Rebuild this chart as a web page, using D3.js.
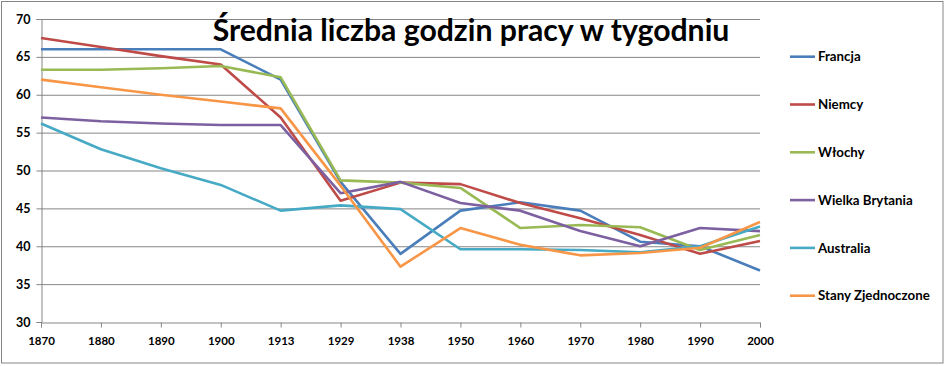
<!DOCTYPE html>
<html><head><meta charset="utf-8">
<script src="https://cdn.jsdelivr.net/npm/d3@7"></script>
<style>body{margin:0;background:#fff}svg{display:block}</style>
</head><body>
<svg id="c" width="945" height="366"></svg>
<script>
const years = ["1870","1880","1890","1900","1913","1929","1938","1950","1960","1970","1980","1990","2000"];
const seriesNames = ["Francja","Niemcy","Włochy","Wielka Brytania","Australia","Stany Zjednoczone"];
const francja = [66,66,66,66,62,48.5,39,44.7,45.8,44.7,40.6,40,36.8];
const niemcy = [67.5,66.3,65.1,64,57,46,48.4,48.2,45.7,43.7,41.5,39,40.7];
const wlochy = [63.3,63.3,63.5,63.8,62.3,48.7,48.4,47.7,42.4,42.8,42.5,39.5,41.5];
const wielkaBrytania = [57,56.5,56.2,56,56,47,48.5,45.7,44.7,42,40,42.4,42];
const australia = [56.2,52.8,50.3,48.1,44.7,45.4,44.9,39.6,39.6,39.5,39.2,40,42.6];
const stanyZjednoczone = [62,61,60,59.1,58.2,48,37.3,42.4,40.2,38.8,39.1,39.8,43.2];
const yTicks = [30,35,40,45,50,55,60,65,70];
const title = "Średnia liczba godzin pracy w tygodniu";

(function(){
const allSeries = [francja,niemcy,wlochy,wielkaBrytania,australia,stanyZjednoczone];
const colors = ["#4A7EBB","#BE4B48","#98B954","#7D60A0","#46AAC5","#F79646"];

const svg = d3.select("#c");
const font = "Lato, 'DejaVu Sans', sans-serif";
svg.append("rect").attr("x",1.5).attr("y",1.5).attr("width",941.5).attr("height",361.5)
  .attr("fill","#fff").attr("stroke","#868686").attr("stroke-width",1);

const pl=41, pr=760, pt=19, pb=322;
const x = d3.scalePoint().domain(years).range([pl,pr]);
const y = d3.scaleLinear().domain([30,70]).range([pb,pt]);

svg.append("g").selectAll("line").data(yTicks.filter(t=>t>30)).join("line")
  .attr("x1",pl).attr("x2",pr).attr("y1",d=>y(d)+0.5).attr("y2",d=>y(d)+0.5)
  .attr("stroke","#868686").attr("stroke-width",1);

const yAxis = svg.append("g").attr("transform",`translate(${pl+0.5},0)`)
  .call(d3.axisLeft(y).tickValues(yTicks).tickSize(5).tickPadding(6));
yAxis.select(".domain").attr("stroke","#868686");
yAxis.selectAll(".tick line").attr("stroke","#868686");
yAxis.selectAll("text").attr("font-family",font).attr("font-weight","bold").attr("font-size","12.5px").attr("fill","#000");

const xAxis = svg.append("g").attr("transform",`translate(0,${pb+0.5})`)
  .call(d3.axisBottom(x).tickSize(5).tickPadding(9));
xAxis.select(".domain").attr("stroke","#868686");
xAxis.selectAll(".tick line").attr("stroke","#868686");
xAxis.selectAll("text").attr("font-family",font).attr("font-weight","bold").attr("font-size","11.5px").attr("fill","#000");

const line = d3.line().x((d,i)=>x(years[i])).y(d=>y(d));
svg.append("g").selectAll("path").data(allSeries).join("path")
  .attr("d",line).attr("fill","none").attr("stroke",(d,i)=>colors[i])
  .attr("stroke-width",2.6).attr("stroke-linejoin","round");

const leg = svg.append("g").selectAll("g").data(seriesNames).join("g")
  .attr("transform",(d,i)=>`translate(790,${56.7+i*47.8})`);
leg.append("line").attr("x1",0).attr("x2",25).attr("stroke",(d,i)=>colors[i]).attr("stroke-width",2.6);
leg.append("text").attr("x",28).attr("dy","0.35em").text(d=>d)
  .attr("font-family",font).attr("font-weight","bold").attr("font-size","13.3px").attr("fill","#000");

const t = svg.append("text").attr("x",471).attr("y",41).attr("text-anchor","middle")
  .attr("font-family",font).attr("font-weight","bold").attr("font-size","30px").attr("fill","#000").text(title);
const w = t.node().getComputedTextLength();
t.attr("font-size",(30*517/w)+"px");
})();
</script>
</body></html>
